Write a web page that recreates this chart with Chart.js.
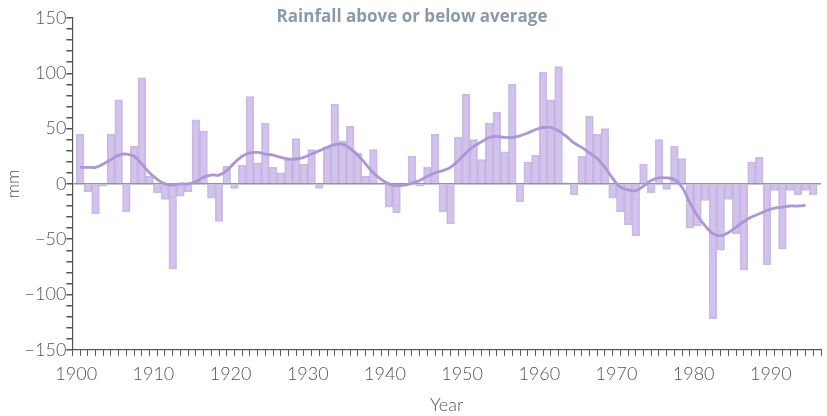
<!DOCTYPE html>
<html>
<head>
<meta charset="utf-8">
<script src="https://cdn.jsdelivr.net/npm/chart.js@4/dist/chart.umd.min.js"></script>
<style>
  html, body { margin: 0; padding: 0; background: #fff; }
  #wrap { width: 827px; height: 416px; position: relative; }
</style>
</head>
<body>
<div id="wrap"><canvas id="chart"></canvas></div>
<script>
// rainfall anomaly (mm) per year, 1900 - 1995
const firstYear = 1900;
const lastYear = 1996;
const rainfall = [
  45, -7, -27, -2, 45, 76, -25, 34, 96, 7,
  -8, -14, -77, -11, -7, 58, 48, -13, -34, 16,
  -4, 17, 79, 19, 55, 15, 10, 22, 41, 18,
  31, -4, 33, 72, 39, 52, 28, 7, 31, 1,
  -21, -26, -2, 25, -2, 15, 45, -25, -36, 42,
  81, 40, 22, 55, 65, 29, 90, -16, 20, 26,
  101, 76, 106, 1, -10, 25, 61, 45, 50, -13,
  -25, -37, -47, 18, -8, 40, -5, 34, 23, -40,
  -38, -15, -122, -60, -14, -45, -78, 20, 24, -73,
  -6, -59, -6, -10, -6, -10
];
// smoothed trend line, 1900 - 1994
const trend = [
  15, 15, 15, 18, 22, 26, 27, 25, 18, 10,
  4, 0, -1, 0, 0, 2, 6, 8, 8, 12,
  19, 25, 28, 28.5, 27, 26, 24, 22.5, 22.5, 24,
  27, 30, 33, 35.5, 36, 32, 26, 18, 10, 4,
  0, -1.5, -1, 0.5, 3, 7, 10, 12, 15, 21,
  28, 34, 38, 42, 43, 42, 42, 43.5, 46, 49,
  51, 51, 48, 43, 37, 33, 28, 23, 15, 5,
  -3, -5.5, -6, -2, 3, 5.5, 5.5, 4, -3, -17,
  -29, -38, -45, -47, -44, -39, -34, -30, -27, -24,
  -22, -21, -20, -20, -19.5
];
const decadeLabels = [1900, 1910, 1920, 1930, 1940, 1950, 1960, 1970, 1980, 1990];
const yLabels = [-150, -100, -50, 0, 50, 100, 150];
const titleText = "Rainfall above or below average";

const tickFont = { family: "Lato, 'Open Sans', sans-serif", size: 18, weight: 300 };

const titlePlugin = {
  id: 'topTitle',
  afterDraw(chart) {
    const ctx = chart.ctx;
    ctx.save();
    ctx.font = "bold 17px 'Open Sans', sans-serif";
    ctx.fillStyle = '#8c99ac';
    ctx.textAlign = 'center';
    ctx.textBaseline = 'middle';
    ctx.fillText(titleText, 412, 17);
    ctx.restore();
  }
};

new Chart(document.getElementById('chart'), {
  type: 'bar',
  data: {
    datasets: [
      {
        type: 'line',
        data: trend.map((v, i) => ({ x: firstYear + i + 0.5, y: v })),
        borderColor: '#ad95d6',
        borderWidth: 2.8,
        tension: 0.4,
        pointRadius: 0,
        fill: false,
        order: 0
      },
      {
        type: 'bar',
        data: rainfall.map((v, i) => ({ x: firstYear + i + 0.5, y: v })),
        backgroundColor: 'rgba(200, 178, 234, 0.8)',
        borderColor: 'rgba(160, 150, 200, 0.6)',
        borderWidth: 1,
        barPercentage: 1,
        categoryPercentage: 1,
        order: 1
      }
    ]
  },
  options: {
    responsive: true,
    maintainAspectRatio: false,
    animation: false,
    layout: { padding: { top: 18, right: 6, left: 2, bottom: 0 } },
    plugins: {
      legend: { display: false },
      tooltip: { enabled: false }
    },
    scales: {
      x: {
        type: 'linear',
        min: firstYear,
        max: lastYear,
        grid: { drawOnChartArea: false, tickLength: 6, tickColor: '#555', tickWidth: 1 },
        border: { color: '#555', width: 1.2 },
        ticks: {
          stepSize: 1,
          autoSkip: false,
          maxRotation: 0,
          padding: 8,
          color: '#555',
          font: tickFont,
          callback: v => decadeLabels.includes(v) ? String(v) : ''
        },
        title: { display: true, text: 'Year', color: '#555', font: { family: "Lato, 'Open Sans', sans-serif", size: 18, weight: 300 }, padding: { top: 1, bottom: 0 } }
      },
      y: {
        min: -150,
        max: 150,
        z: 1,
        grid: {
          color: ctx => ctx.tick && ctx.tick.value === 0 ? '#8e93a6' : 'transparent',
          lineWidth: 1.5,
          tickColor: '#555',
          tickLength: 6
        },
        border: { color: '#555', width: 1.2 },
        ticks: {
          stepSize: 10,
          autoSkip: false,
          padding: 0,
          color: '#555',
          font: tickFont,
          callback: v => yLabels.includes(v) ? (v < 0 ? '\u2212' + Math.abs(v) : String(v)) : ''
        },
        title: { display: true, text: 'mm', color: '#555', font: { family: "Lato, 'Open Sans', sans-serif", size: 18, weight: 300 }, padding: { top: 0, bottom: 1 } }
      }
    }
  },
  plugins: [titlePlugin]
});
</script>
</body>
</html>
